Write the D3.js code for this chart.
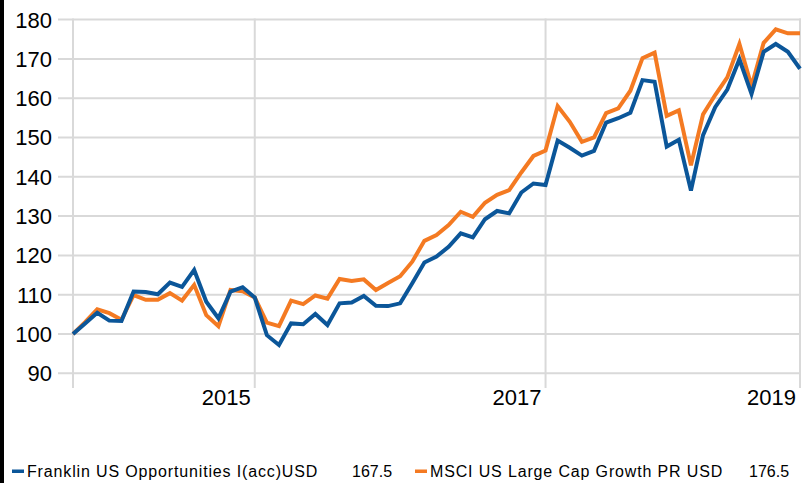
<!DOCTYPE html>
<html>
<head>
<meta charset="utf-8">
<script src="https://cdn.jsdelivr.net/npm/d3@7"></script>
<style>
  body { margin: 0; background: #fff; }
  svg text { font-family: "Liberation Sans", Arial, sans-serif; fill: #000; }
</style>
</head>
<body>
<div id="lineChart"></div>
<script>
// monthly index values, both series rebased to 100
const franklin = [100, 102.7, 105.4, 103.4, 103.3, 110.8, 110.7, 110.1, 113.1, 112.0, 116.3,
  108.2, 104.0, 110.8, 111.9, 109.3, 99.7, 97.2, 102.7, 102.5, 105.1,
  102.3, 107.8, 108.0, 109.7, 107.2, 107.1, 107.8, 112.9, 118.2, 119.7,
  122.2, 125.6, 124.6, 129.2, 131.3, 130.7, 136.0, 138.3, 137.9, 149.2,
  147.4, 145.4, 146.6, 153.8, 154.9, 156.3, 164.6, 164.2, 147.7, 149.4,
  136.5, 150.6, 157.7, 162.2, 169.9, 161.1, 171.8, 173.8, 171.8, 167.5];
const msci = [100, 103, 106.3, 105.3, 103.6, 109.9, 108.7, 108.7, 110.4, 108.5, 112.5,
  104.8, 102.0, 111.2, 110.9, 109.3, 102.9, 102.0, 108.5, 107.6, 109.8,
  109.0, 114.0, 113.5, 113.9, 111.2, 113.0, 114.7, 118.4, 123.7, 125.2,
  127.7, 131.1, 129.8, 133.4, 135.4, 136.6, 141.1, 145.3, 146.7, 158.0,
  154.0, 148.9, 150.0, 156.2, 157.4, 161.9, 170.2, 171.6, 155.5, 156.9,
  142.9, 155.9, 160.8, 165.3, 173.8, 163.1, 174.1, 177.5, 176.5, 176.5];

const seriesNames = ["Franklin US Opportunities I(acc)USD", "MSCI US Large Cap Growth PR USD"];
const lastValues = ["167.5", "176.5"];

// x ticks are month positions in the series
const yearTickIdx = [15, 39, 60];
const yearTickLabels = ["2015", "2017", "2019"];
const yTicks = [90, 100, 110, 120, 130, 140, 150, 160, 170, 180];

const width = 806, height = 483;
const blue = "#0b5699", orange = "#f47a22", grid = "#d9d9d9";

const svg = d3.select("#lineChart").append("svg")
  .attr("width", width).attr("height", height);

// black strip at the left edge
svg.append("rect").attr("x", 0).attr("y", 0).attr("width", 4).attr("height", height).attr("fill", "#000");

const x = d3.scaleLinear().domain([0, franklin.length - 1]).range([73, 800]);
const y = d3.scaleLinear().domain([100, 180]).range([334, 19.6]);

// horizontal grid + y labels
svg.append("g").selectAll("line").data(yTicks).join("line")
  .attr("x1", 58).attr("x2", 801)
  .attr("y1", d => y(d)).attr("y2", d => y(d))
  .attr("stroke", grid).attr("stroke-width", 2);

svg.append("g").selectAll("text").data(yTicks).join("text")
  .attr("x", 52).attr("y", d => y(d))
  .attr("dy", "0.36em")
  .attr("text-anchor", "end")
  .style("font-size", "22px")
  .text(d => d);

// vertical grid: left edge + year lines
svg.append("g").selectAll("line").data([0].concat(yearTickIdx)).join("line")
  .attr("x1", d => x(d)).attr("x2", d => x(d))
  .attr("y1", y(180) - 1).attr("y2", 388)
  .attr("stroke", grid).attr("stroke-width", 2);

svg.append("g").selectAll("text").data(yearTickIdx).join("text")
  .attr("x", d => x(d) - 4).attr("y", 405)
  .attr("text-anchor", "end")
  .style("font-size", "22px")
  .text((d, i) => yearTickLabels[i]);

// lines, index drawn first so the fund sits on top
const line = d3.line().x((d, i) => x(i)).y(d => y(d));
[[msci, orange], [franklin, blue]].forEach(([vals, c]) => {
  svg.append("path").datum(vals)
    .attr("d", line)
    .attr("fill", "none")
    .attr("stroke", c)
    .attr("stroke-width", 4);
});

// legend
const legendX = [12, 415], valueX = [352, 749];
[blue, orange].forEach((c, i) => {
  svg.append("rect").attr("x", legendX[i]).attr("y", 469.5).attr("width", 12).attr("height", 3.5).attr("fill", c);
  svg.append("text").attr("x", legendX[i] + 15).attr("y", 477)
    .style("font-size", "16px").style("letter-spacing", "0.85px")
    .text(seriesNames[i]);
  svg.append("text").attr("x", valueX[i]).attr("y", 477)
    .style("font-size", "16px").text(lastValues[i]);
});
</script>
</body>
</html>
